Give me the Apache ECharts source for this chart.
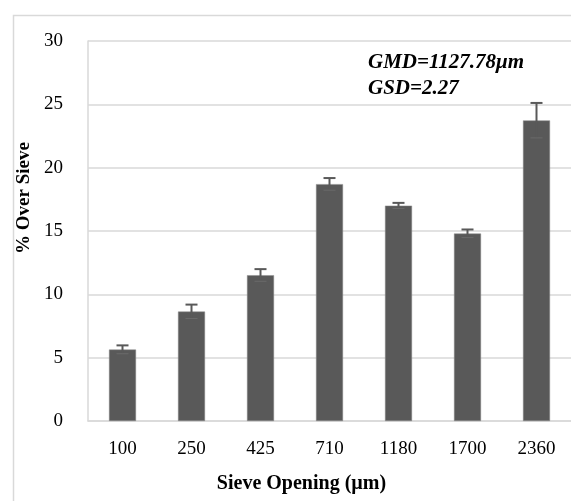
<!DOCTYPE html>
<html>
<head>
<meta charset="utf-8">
<script src="https://cdn.jsdelivr.net/npm/echarts@6/dist/echarts.min.js"></script>
<style>html,body{margin:0;padding:0;background:#fff}#c{width:571px;height:501px}</style>
</head>
<body>
<div id="c"></div>
<script>
const categories = ['100', '250', '425', '710', '1180', '1700', '2360'];
const values = [5.64, 8.64, 11.51, 18.70, 17.00, 14.80, 23.73];
const errors = [0.33, 0.55, 0.48, 0.48, 0.22, 0.32, 1.38];
const yTicks = [0, 5, 10, 15, 20, 25, 30];
const annotation = ['GMD=1127.78\u03bcm', 'GSD=2.27'];

const FONT = '"Liberation Serif", "DejaVu Serif", serif';
const chart = echarts.init(document.getElementById('c'), null, {renderer: 'canvas'});
const errData = categories.map((c, i) => [i, values[i] - errors[i], values[i] + errors[i]]);

chart.setOption({
  animation: false,
  backgroundColor: '#fff',
  grid: {left: 88, top: 41, width: 485, height: 380, containLabel: false},
  graphic: [
    {type: 'rect', left: 11, top: 13, shape: {width: 600, height: 600}, style: {fill: 'none', stroke: '#d9d9d9', lineWidth: 1.5}, z: -1},
    {type: 'text', left: 368, top: 50, style: {text: annotation.join('\n'), font: 'italic bold 21px ' + FONT, fill: '#000', lineHeight: 26}}
  ],
  xAxis: {
    type: 'category',
    data: categories,
    name: 'Sieve Opening (\u00b5m)',
    nameLocation: 'middle',
    nameGap: 53,
    nameTextStyle: {fontFamily: FONT, fontWeight: 'bold', fontSize: 20, color: '#000', padding: [0, 56, 0, 0]},
    axisLine: {lineStyle: {color: '#d9d9d9', width: 1.5}},
    axisTick: {show: false},
    axisLabel: {fontFamily: FONT, fontSize: 19, color: '#000', margin: 19}
  },
  yAxis: {
    type: 'value',
    min: yTicks[0], max: yTicks[yTicks.length - 1], interval: 5,
    name: '% Over Sieve',
    nameLocation: 'middle',
    nameGap: 50,
    nameTextStyle: {fontFamily: FONT, fontWeight: 'bold', fontSize: 19, color: '#000', padding: [0, 0, 0, 66]},
    axisLine: {show: true, lineStyle: {color: '#d9d9d9', width: 1.5}},
    axisTick: {show: false},
    splitLine: {lineStyle: {color: '#d9d9d9', width: 1.5}},
    axisLabel: {fontFamily: FONT, fontSize: 19, color: '#000', margin: 25}
  },
  series: [
    {
      type: 'bar',
      data: values,
      barWidth: 27,
      itemStyle: {color: '#595959', borderColor: '#8a8a8a', borderWidth: 0.5}
    },
    {
      type: 'custom',
      data: errData,
      z: 10,
      renderItem: function (params, api) {
        const x = api.value(0);
        const lo = api.coord([x, api.value(1)]);
        const hi = api.coord([x, api.value(2)]);
        const hw = 6;
        const st = {stroke: '#595959', lineWidth: 2};
        return {type: 'group', children: [
          {type: 'line', shape: {x1: lo[0], y1: lo[1], x2: hi[0], y2: hi[1]}, style: st},
          {type: 'line', shape: {x1: hi[0] - hw, y1: hi[1], x2: hi[0] + hw, y2: hi[1]}, style: st},
          {type: 'line', shape: {x1: lo[0] - hw, y1: lo[1], x2: lo[0] + hw, y2: lo[1]}, style: {stroke: '#6a6a6a', lineWidth: 1}}
        ]};
      }
    }
  ]
});
</script>
</body>
</html>
